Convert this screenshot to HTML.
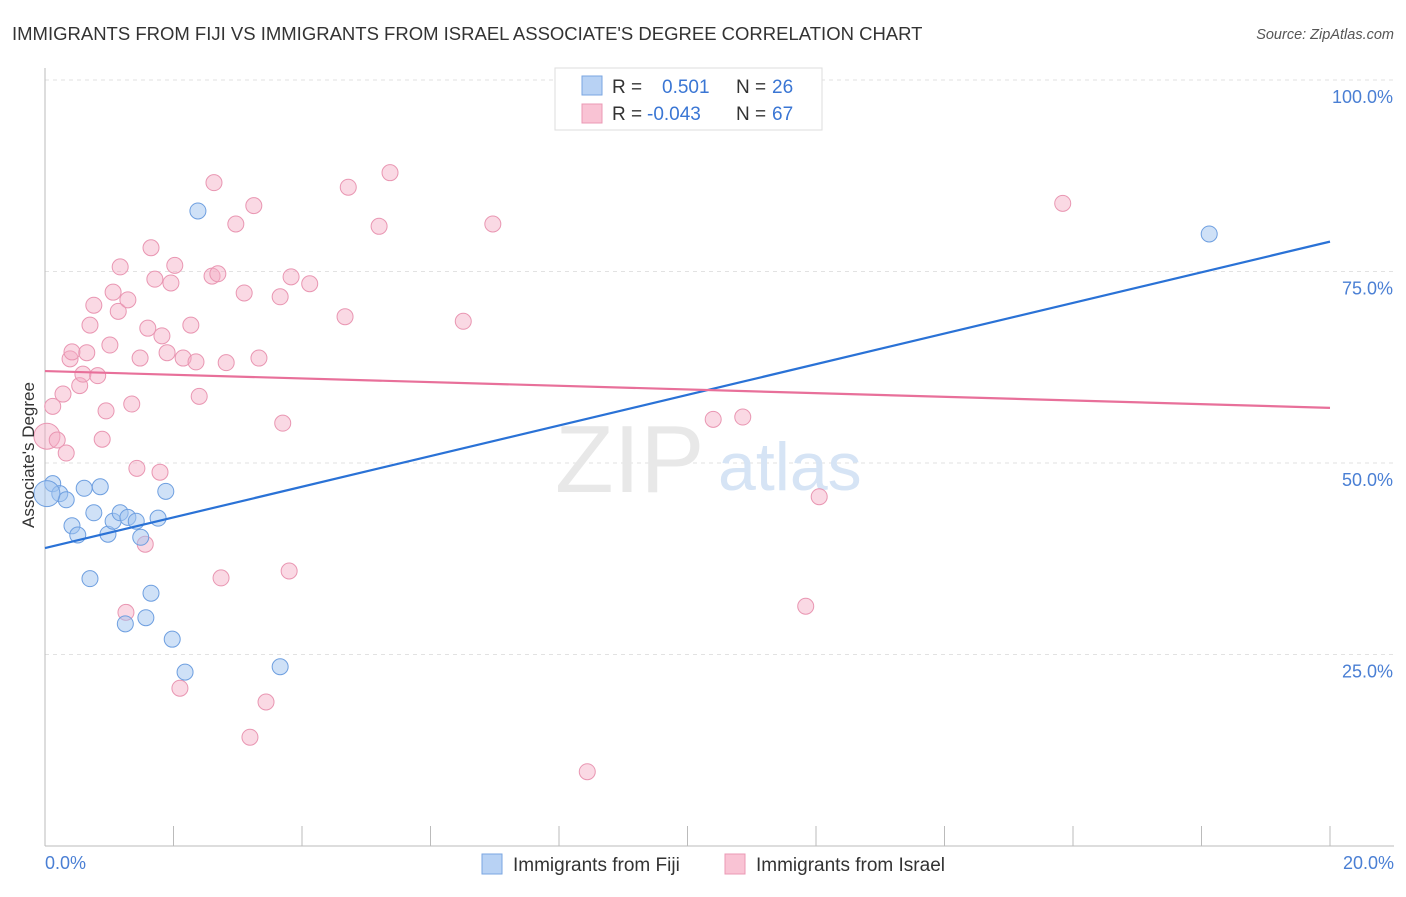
<!DOCTYPE html>
<html><head><meta charset="utf-8"><style>
body{margin:0;background:#fff;font-family:"Liberation Sans",sans-serif;}
svg text{font-family:"Liberation Sans",sans-serif;}
</style></head><body>
<svg width="1406" height="892" xmlns="http://www.w3.org/2000/svg">
<text x="12" y="40" font-size="18.5" fill="#333">IMMIGRANTS FROM FIJI VS IMMIGRANTS FROM ISRAEL ASSOCIATE'S DEGREE CORRELATION CHART</text>
<text x="1394" y="39" font-size="14.5" fill="#555" text-anchor="end" font-style="italic">Source: ZipAtlas.com</text>
<g id="grid"></g>
<g id="axes"></g>
<text x="555" y="492" font-size="96" fill="#e8e8e8" font-family="Liberation Serif">ZIP</text>
<text x="718" y="490" font-size="68" fill="#d6e4f5">atlas</text>
<g id="pts"></g>
<g id="lines"></g>
<text transform="translate(34,455) rotate(-90)" font-size="17" fill="#333" text-anchor="middle">Associate's Degree</text>
<text x="45" y="869" font-size="18" fill="#4a7fd4">0.0%</text>
<text x="1394" y="869" font-size="18" fill="#4a7fd4" text-anchor="end">20.0%</text>
<g>
<rect x="555" y="68" width="267" height="62" fill="#fff" stroke="#ddd"/>
<rect x="582" y="76" width="20" height="19" fill="#b8d2f4" stroke="#7aa6e2"/>
<rect x="582" y="104" width="20" height="19" fill="#f9c3d4" stroke="#eb98b4"/>
<text x="612" y="93" font-size="19" fill="#333">R = </text><text x="662" y="93" font-size="19" fill="#3a76d4">0.501</text>
<text x="736" y="93" font-size="19" fill="#333">N = </text><text x="772" y="93" font-size="19" fill="#3a76d4">26</text>
<text x="612" y="120" font-size="19" fill="#333">R = </text><text x="647" y="120" font-size="19" fill="#3a76d4">-0.043</text>
<text x="736" y="120" font-size="19" fill="#333">N = </text><text x="772" y="120" font-size="19" fill="#3a76d4">67</text>
</g>
<g>
<rect x="482" y="854" width="20" height="20" fill="#b8d2f4" stroke="#7aa6e2"/>
<text x="513" y="871" font-size="19" fill="#333">Immigrants from Fiji</text>
<rect x="725" y="854" width="20" height="20" fill="#f9c3d4" stroke="#eb98b4"/>
<text x="756" y="871" font-size="19" fill="#333">Immigrants from Israel</text>
</g>
</svg>
<script>
const yTicks=[25,50,75,100];
const yTickLabels=["25.0%","50.0%","75.0%","100.0%"];
const xTicks=[0,2,4,6,8,10,12,14,16,18,20];
const fijiX=[0.12,0.23,0.33,0.42,0.51,0.61,0.70,0.76,0.86,0.98,1.06,1.17,1.25,1.29,1.42,1.49,1.57,1.65,1.76,1.88,1.98,2.18,2.38,3.66,18.12,0.03];
const fijiY=[47.3,46.0,45.2,41.8,40.6,46.7,34.9,43.5,46.9,40.7,42.4,43.5,29.0,42.9,42.4,40.3,29.8,33.0,42.8,46.3,27.0,22.7,82.9,23.4,79.9,46.0];
const israelX=[0.03,0.12,0.19,0.28,0.33,0.39,0.42,0.54,0.59,0.65,0.70,0.76,0.82,0.89,0.95,1.01,1.06,1.14,1.17,1.29,1.26,1.35,1.43,1.48,1.56,1.60,1.65,1.71,1.79,1.82,1.90,1.96,2.02,2.10,2.15,2.27,2.35,2.40,2.60,2.63,2.69,2.74,2.82,2.97,3.10,3.19,3.25,3.33,3.44,3.66,3.70,3.80,3.83,4.12,4.67,4.72,5.20,5.37,6.51,6.97,8.44,10.40,10.86,11.84,12.05,15.84];
const israelY=[53.5,57.4,53.0,59.0,51.3,63.6,64.5,60.1,61.6,64.4,68.0,70.6,61.4,53.1,56.8,65.4,72.3,69.8,75.6,71.3,30.5,57.7,49.3,63.7,39.4,67.6,78.1,74.0,48.8,66.6,64.4,73.5,75.8,20.6,63.7,68.0,63.2,58.7,74.4,86.6,74.7,35.0,63.1,81.2,72.2,14.2,83.6,63.7,18.8,71.7,55.2,35.9,74.3,73.4,69.1,86.0,80.9,87.9,68.5,81.2,9.7,55.7,56.0,31.3,45.6,83.9];
const fijiTrend=[38.9,78.9];
const israelTrend=[62.0,57.2];
const NS="http://www.w3.org/2000/svg";
const X=v=>45+v*64.25, Y=v=>846-v*7.66;
function mk(t,a,p){const e=document.createElementNS(NS,t);for(const k in a)e.setAttribute(k,a[k]);document.getElementById(p).appendChild(e);return e;}
yTicks.forEach((t,i)=>{
 const g=mk('line',{x1:45,x2:1394,y1:Y(t),y2:Y(t),stroke:'#e2e2e2','stroke-dasharray':'4,4'},'grid');
 
 
 const l=mk('text',{x:1393,y:Y(t)+23,'font-size':18,fill:'#4a7fd4','text-anchor':'end'},'axes');
 l.textContent=yTickLabels[i];
 
 
});
mk('line',{x1:45,x2:45,y1:68,y2:846,stroke:'#bbb'},'axes');
mk('line',{x1:45,x2:1394,y1:846,y2:846,stroke:'#bbb'},'axes');
xTicks.forEach(t=>{
 const k=mk('line',{x1:X(t),x2:X(t),y1:826,y2:846,stroke:'#bbb'},'axes');
 
 
});
israelX.forEach((x,i)=>{
 const c=mk('circle',{cx:X(x),cy:Y(israelY[i]),r:i==0?13:8,fill:'rgba(245,170,196,0.45)',stroke:'#e996b2','stroke-width':1},'pts');
 
 
});
fijiX.forEach((x,i)=>{
 const c=mk('circle',{cx:X(x),cy:Y(fijiY[i]),r:i==25?13:8,fill:'rgba(160,196,240,0.5)',stroke:'#6e9fe0','stroke-width':1},'pts');
 
 
});
const l1=mk('line',{x1:X(0),y1:Y(fijiTrend[0]),x2:X(20),y2:Y(fijiTrend[1]),stroke:'#2a72d6','stroke-width':2.2},'lines');


const l2=mk('line',{x1:X(0),y1:Y(israelTrend[0]),x2:X(20),y2:Y(israelTrend[1]),stroke:'#e8709a','stroke-width':2.2},'lines');


</script>
</body></html>
